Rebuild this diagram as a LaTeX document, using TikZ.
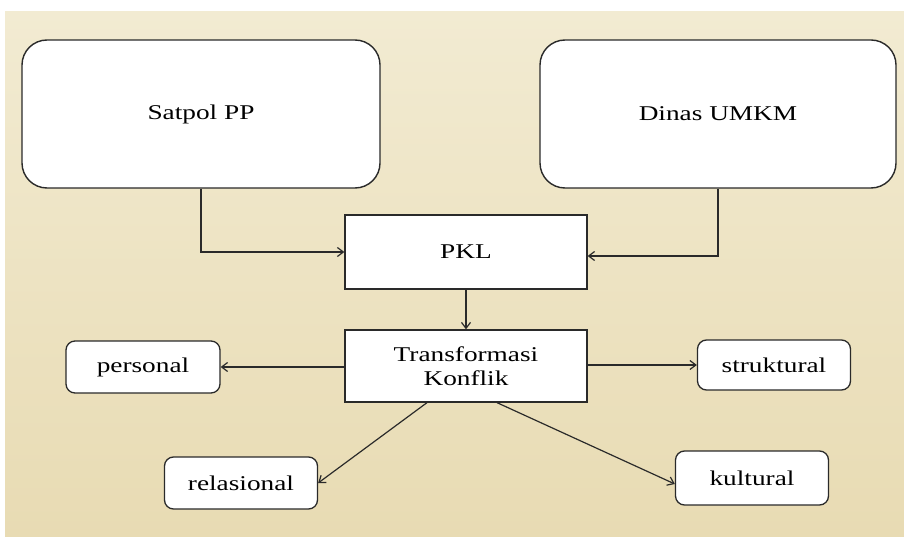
\documentclass[tikz,border=0pt]{standalone}
\usepackage{xcolor}
\usepackage{fontspec}
\setmainfont[FakeStretch=1.3]{Liberation Serif}
\usepackage{tikz}
\usetikzlibrary{arrows.meta,positioning,calc}

\definecolor{paper}{HTML}{F2EBD2}
\definecolor{paperdark}{HTML}{E8DBB3}
\definecolor{ink}{HTML}{2A2A2A}

\begin{document}
\begin{tikzpicture}[
  x=1pt, y=-1pt,
  font=\fontsize{21}{24}\selectfont,
  bigbox/.style={draw=ink, line width=1.4pt, rounded corners=25pt, fill=white, minimum width=358pt, minimum height=148pt, align=center},
  midbox/.style={draw=ink, line width=1.3pt, fill=white, minimum width=242pt, minimum height=74pt, align=center},
  smallbox/.style={draw=ink, line width=1.3pt, rounded corners=9pt, fill=white, minimum width=153pt, minimum height=52pt, align=center},
  flow/.style={-{Straight Barb[length=6pt,width=9pt]}, line width=1.2pt, ink}
]

\useasboundingbox (0,0) rectangle (904,537);
\fill[white] (0,0) rectangle (904,537);
\shade[top color=paper, bottom color=paperdark] (5,12) rectangle (904,537);

\node[bigbox] (satpol) at (201,114) {Satpol PP};
\node[bigbox, minimum width=356pt] (dinas) at (718,114) {Dinas UMKM};

\node[midbox] (pkl) at (466,252) {PKL};
\node[midbox, minimum height=72pt] (trans) at (466,366) {Transformasi\\Konflik};

\node[smallbox, minimum width=154pt] (personal) at (143,367) {personal};
\node[smallbox, minimum height=50pt] (struktural) at (774,365) {struktural};
\node[smallbox] (relasional) at (241,483) {relasional};
\node[smallbox, minimum height=54pt] (kultural) at (752,478) {kultural};

\draw[flow] (satpol.south) |- (pkl.west);
\draw[flow] (dinas.south) |- ([yshift=-4pt]pkl.east);
\draw[flow] (pkl.south) -- (trans.north);

\draw[flow] (trans.west |- personal.east) -- (personal.east);
\draw[flow] (trans.east |- struktural.west) -- (struktural.west);
\draw[flow] ([xshift=-39pt]trans.south) -- (relasional.east);
\draw[flow] ([xshift=31pt]trans.south) -- ([yshift=-6pt]kultural.west);

\end{tikzpicture}
\end{document}
